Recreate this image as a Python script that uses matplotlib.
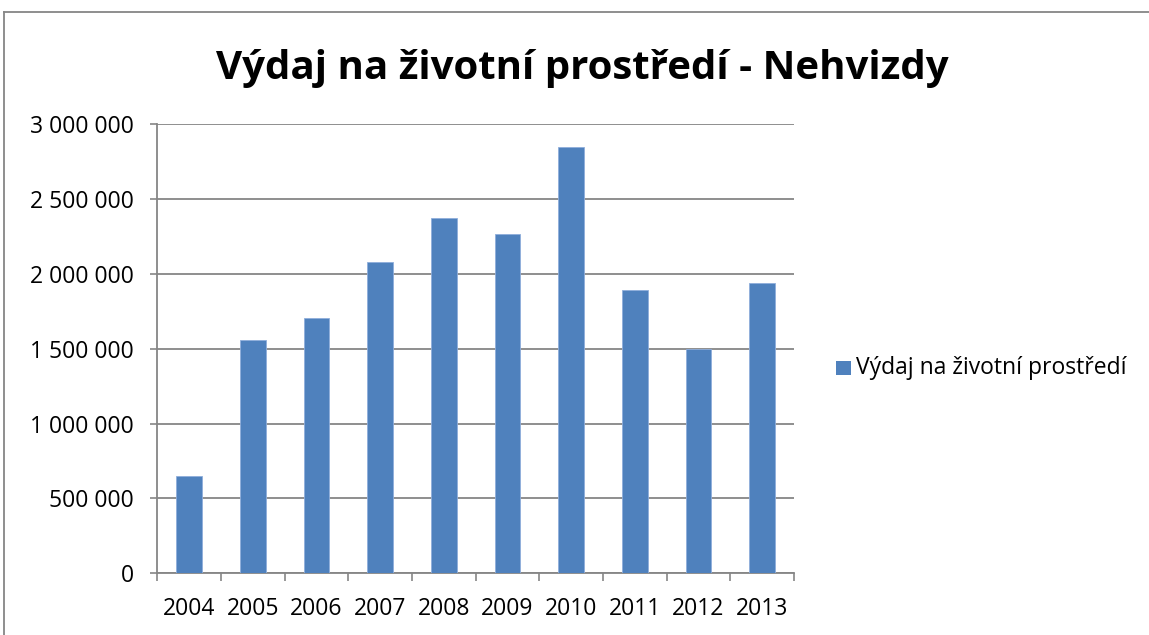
import matplotlib
matplotlib.use("Agg")
import matplotlib.pyplot as plt
from matplotlib.ticker import FuncFormatter
from matplotlib.lines import Line2D

years = ["2004", "2005", "2006", "2007", "2008", "2009", "2010", "2011", "2012", "2013"]
values = [648000, 1560000, 1705000, 2081000, 2374000, 2268000, 2846000, 1890000, 1498000, 1936000]
title = "Výdaj na životní prostředí - Nehvizdy"
series_name = "Výdaj na životní prostředí"

plt.rcParams['font.family'] = ['Open Sans', 'DejaVu Sans']

W, H = 1149, 635
fig = plt.figure(figsize=(W / 100, H / 100), dpi=100)
ax = fig.add_axes([157.3 / W, 1 - 573.3 / H, (794 - 157.3) / W, (573.3 - 124) / H])

color = "#4F81BD"
x = list(range(len(years)))
ax.bar(x, values, width=0.4, color=color, edgecolor="#8FAEDB", linewidth=0.6, zorder=3,
       label=series_name)
ax.set_xlim(-0.5, len(years) - 0.5)
ax.set_ylim(0, 3000000)
ax.set_yticks(range(0, 3000001, 500000))
ax.yaxis.set_major_formatter(FuncFormatter(lambda v, p: f"{int(v):,}".replace(",", " ")))
ax.set_xticks(x)
ax.set_xticklabels(years)
ax.set_xticks([i - 0.5 for i in range(len(years) + 1)], minor=True)
ax.tick_params(axis='x', which='major', length=0, labelsize=16.5, pad=17)
ax.tick_params(axis='x', which='minor', length=5.5, color="#868686", width=1.2)
ax.tick_params(axis='y', length=5, color="#868686", width=1.2, labelsize=16.5, pad=12)
ax.grid(axis='y', color="#868686", linewidth=1.3, zorder=0)
for s in ['top', 'right']:
    ax.spines[s].set_visible(False)
for s in ['left', 'bottom']:
    ax.spines[s].set_color("#868686")
    ax.spines[s].set_linewidth(1.3)

fig.text(582 / W, 1 - 69 / H, title, ha='center', va='center', fontsize=29, fontweight='bold')

# legend
fig.patches.append(plt.Rectangle((836 / W, 1 - 375 / H), 15 / W, 14 / H, transform=fig.transFigure,
                                 facecolor=color, edgecolor='none'))
fig.text(856 / W, 1 - 368 / H, series_name, ha='left', va='center', fontsize=16.5)

# outer chart border
fig.add_artist(Line2D([4 / W, 4 / W], [0, 1 - 12 / H], transform=fig.transFigure, color="#868686", linewidth=1.3))
fig.add_artist(Line2D([4 / W, 1], [1 - 12 / H, 1 - 12 / H], transform=fig.transFigure, color="#868686", linewidth=1.3))

fig.savefig("out.png", dpi=100)
